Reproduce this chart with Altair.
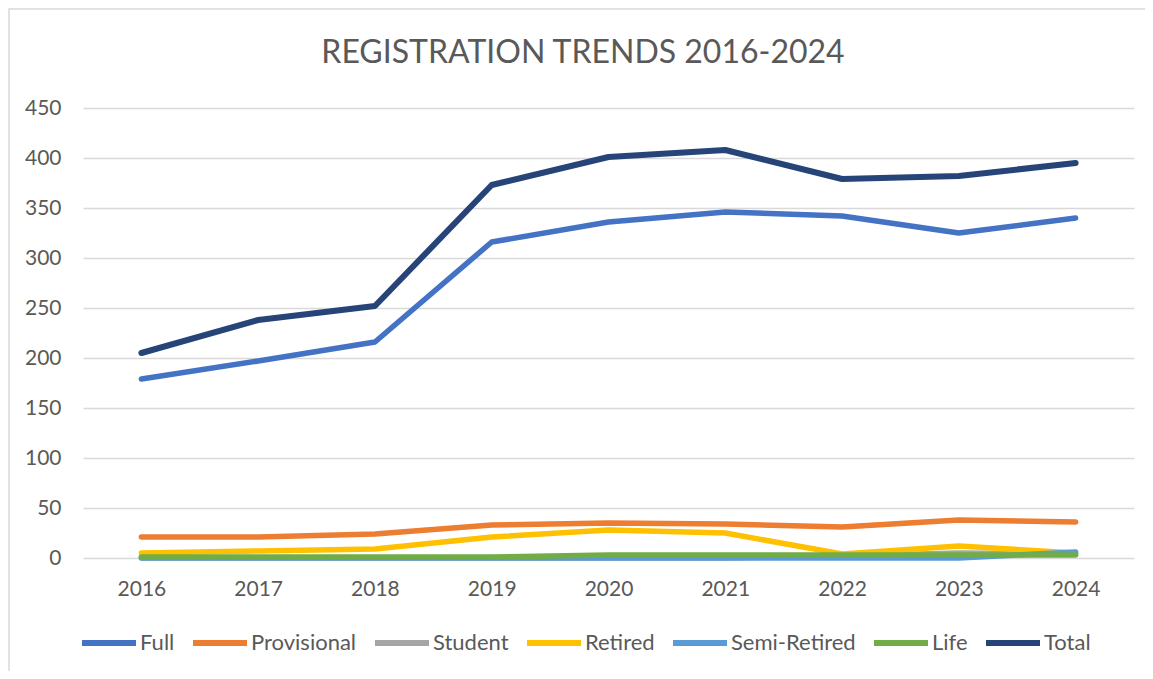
import altair as alt
import pandas as pd

years = ["2016", "2017", "2018", "2019", "2020", "2021", "2022", "2023", "2024"]
series_names = ["Full", "Provisional", "Student", "Retired", "Semi-Retired", "Life", "Total"]
full = [179, 197, 216, 316, 336, 346, 342, 325, 340]
provisional = [21, 21, 24, 33, 35, 34, 31, 38, 36]
student = [0, 0, 0, 0, 0, 0, 2, 5, 4]
retired = [5, 7, 9, 21, 28, 25, 4, 12, 5]
semi_retired = [0, 0, 0, 0, 0, 0, 0, 0, 6]
life = [1, 1, 1, 1, 3, 3, 3, 3, 3]
total = [205, 238, 252, 373, 401, 408, 379, 382, 395]
colors = ["#4472C4", "#ED7D31", "#A5A5A5", "#FFC000", "#5B9BD5", "#70AD47", "#264478"]
title_text = "REGISTRATION TRENDS 2016-2024"

values = [full, provisional, student, retired, semi_retired, life, total]
rows = []
for name, vals in zip(series_names, values):
    for y, v in zip(years, vals):
        rows.append({"Year": y, "Series": name, "Value": v})
df = pd.DataFrame(rows)

FONT = "Lato"
TXT = "#595959"
W, H = 1051, 450

color_scale = alt.Scale(domain=series_names, range=colors)

x_enc = alt.X("Year:N", sort=years,
              scale=alt.Scale(type="point", padding=0.5),
              axis=alt.Axis(title=None, labelAngle=0, domain=False, ticks=False,
                            labelPadding=20, labelFontSize=21, labelColor=TXT,
                            labelFont=FONT, grid=False))
y_enc = alt.Y("Value:Q", scale=alt.Scale(domain=[0, 450], nice=False),
              axis=alt.Axis(title=None, values=list(range(0, 451, 50)), domain=False,
                            ticks=False, labelPadding=22, labelFontSize=21,
                            labelColor=TXT, labelFont=FONT, gridColor="#D9D9D9",
                            gridWidth=1.5))

legend = alt.Legend(title=None, orient="none", legendX=-4, legendY=505,
                    direction="horizontal", columns=7, symbolType="stroke",
                    symbolSize=2916, symbolStrokeWidth=6, labelFontSize=22,
                    labelColor=TXT, labelFont=FONT, labelOffset=1,
                    columnPadding=6, padding=0)

layers = []
border = alt.Chart(pd.DataFrame({"k": [0]})).mark_rect(
    fillOpacity=0, stroke="#D9D9D9", strokeWidth=1.5
).encode(x=alt.value(-74), x2=alt.value(1100), y=alt.value(-99), y2=alt.value(600))
layers.append(border)

for name in series_names:
    width = 6 if name == "Total" else 5.5
    line = alt.Chart(df).transform_filter(
        alt.datum.Series == name
    ).mark_line(strokeWidth=width, strokeCap="round", strokeJoin="round").encode(
        x=x_enc, y=y_enc,
        color=alt.Color("Series:N", scale=color_scale, legend=legend),
    )
    layers.append(line)

title = alt.Chart(pd.DataFrame({"t": [title_text]})).mark_text(
    font=FONT, fontSize=32, color=TXT, align="center", baseline="alphabetic"
).encode(text="t:N", x=alt.value(500), y=alt.value(-45))
layers.append(title)

chart = alt.layer(*layers).properties(
    width=W, height=H,
    autosize=alt.AutoSizeParams(type="none"),
    padding={"left": 75, "top": 100, "right": 11, "bottom": 113},
).configure_view(stroke=None).configure_legend(symbolLimit=10)

chart.save("out.html", embed_options={"renderer": "svg", "actions": False})
